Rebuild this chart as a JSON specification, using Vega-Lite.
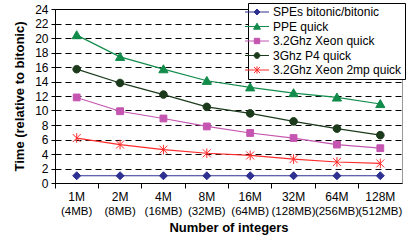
{
  "$schema": "https://vega.github.io/schema/vega-lite/v6.json",
  "width": 347,
  "height": 174,
  "autosize": "none",
  "padding": {"left": 55, "top": 9, "right": 9, "bottom": 57},
  "background": "white",
  "config": {
    "font": "Liberation Sans",
    "view": {"stroke": "#999999", "strokeWidth": 1}
  },
  "data": {
    "values": [
      {"n": "1M (4MB)", "s": "SPEs bitonic/bitonic", "v": 1.0},
      {"n": "2M (8MB)", "s": "SPEs bitonic/bitonic", "v": 1.0},
      {"n": "4M (16MB)", "s": "SPEs bitonic/bitonic", "v": 1.0},
      {"n": "8M (32MB)", "s": "SPEs bitonic/bitonic", "v": 1.0},
      {"n": "16M (64MB)", "s": "SPEs bitonic/bitonic", "v": 1.0},
      {"n": "32M (128MB)", "s": "SPEs bitonic/bitonic", "v": 1.0},
      {"n": "64M (256MB)", "s": "SPEs bitonic/bitonic", "v": 1.0},
      {"n": "128M (512MB)", "s": "SPEs bitonic/bitonic", "v": 1.0},
      {"n": "1M (4MB)", "s": "PPE quick", "v": 20.4},
      {"n": "2M (8MB)", "s": "PPE quick", "v": 17.4},
      {"n": "4M (16MB)", "s": "PPE quick", "v": 15.7},
      {"n": "8M (32MB)", "s": "PPE quick", "v": 14.1},
      {"n": "16M (64MB)", "s": "PPE quick", "v": 13.2},
      {"n": "32M (128MB)", "s": "PPE quick", "v": 12.4},
      {"n": "64M (256MB)", "s": "PPE quick", "v": 11.8},
      {"n": "128M (512MB)", "s": "PPE quick", "v": 10.9},
      {"n": "1M (4MB)", "s": "3.2Ghz Xeon quick", "v": 11.8},
      {"n": "2M (8MB)", "s": "3.2Ghz Xeon quick", "v": 9.9},
      {"n": "4M (16MB)", "s": "3.2Ghz Xeon quick", "v": 8.9},
      {"n": "8M (32MB)", "s": "3.2Ghz Xeon quick", "v": 7.8},
      {"n": "16M (64MB)", "s": "3.2Ghz Xeon quick", "v": 6.9},
      {"n": "32M (128MB)", "s": "3.2Ghz Xeon quick", "v": 6.2},
      {"n": "64M (256MB)", "s": "3.2Ghz Xeon quick", "v": 5.3},
      {"n": "128M (512MB)", "s": "3.2Ghz Xeon quick", "v": 4.8},
      {"n": "1M (4MB)", "s": "3Ghz P4 quick", "v": 15.7},
      {"n": "2M (8MB)", "s": "3Ghz P4 quick", "v": 13.8},
      {"n": "4M (16MB)", "s": "3Ghz P4 quick", "v": 12.2},
      {"n": "8M (32MB)", "s": "3Ghz P4 quick", "v": 10.5},
      {"n": "16M (64MB)", "s": "3Ghz P4 quick", "v": 9.6},
      {"n": "32M (128MB)", "s": "3Ghz P4 quick", "v": 8.5},
      {"n": "64M (256MB)", "s": "3Ghz P4 quick", "v": 7.5},
      {"n": "128M (512MB)", "s": "3Ghz P4 quick", "v": 6.6},
      {"n": "1M (4MB)", "s": "3.2Ghz Xeon 2mp quick", "v": 6.2},
      {"n": "2M (8MB)", "s": "3.2Ghz Xeon 2mp quick", "v": 5.3},
      {"n": "4M (16MB)", "s": "3.2Ghz Xeon 2mp quick", "v": 4.6},
      {"n": "8M (32MB)", "s": "3.2Ghz Xeon 2mp quick", "v": 4.1},
      {"n": "16M (64MB)", "s": "3.2Ghz Xeon 2mp quick", "v": 3.8},
      {"n": "32M (128MB)", "s": "3.2Ghz Xeon 2mp quick", "v": 3.3},
      {"n": "64M (256MB)", "s": "3.2Ghz Xeon 2mp quick", "v": 2.9},
      {"n": "128M (512MB)", "s": "3.2Ghz Xeon 2mp quick", "v": 2.7}
    ]
  },
  "encoding": {
    "y": {
      "field": "v",
      "type": "quantitative",
      "scale": {"domain": [0, 24], "nice": false},
      "title": "Time (relative to bitonic)",
      "axis": {
        "values": [0, 2, 4, 6, 8, 10, 12, 14, 16, 18, 20, 22, 24],
        "grid": true,
        "gridColor": "#000000",
        "gridOpacity": 1,
        "gridWidth": 1,
        "gridDash": {"condition": {"test": "datum.value == 24", "value": []}, "value": [6, 4]},
        "domainColor": "#000000",
        "tickColor": "#000000",
        "tickSize": 4,
        "labelFontSize": 12,
        "labelColor": "#000000",
        "labelPadding": 3,
        "titleFontSize": 13,
        "titleFontWeight": "bold",
        "titleColor": "#000000",
        "titlePadding": 8
      }
    }
  },
  "layer": [
    {
      "mark": {"type": "line", "strokeWidth": 1.2},
      "encoding": {
        "x": {
          "field": "n", "type": "ordinal", "sort": null,
          "scale": {"type": "band", "paddingInner": 0, "paddingOuter": 0},
          "axis": {"orient": "bottom", "bandPosition": 0, "labels": false, "ticks": true, "tickSize": 5, "tickColor": "#000000", "domainColor": "#000000", "grid": false, "title": null}
        },
        "color": {
          "field": "s", "type": "nominal",
          "scale": {
            "domain": ["SPEs bitonic/bitonic", "PPE quick", "3.2Ghz Xeon quick", "3Ghz P4 quick", "3.2Ghz Xeon 2mp quick"],
            "range": ["#2e3192", "#128c4b", "#c455b0", "#1c3a1c", "#ff2b2b"]
          },
          "legend": null
        }
      }
    },
    {
      "mark": {"type": "point", "filled": true, "opacity": 1, "size": 64, "strokeWidth": 1},
      "encoding": {
        "x": {
          "field": "n", "type": "ordinal", "sort": null,
          "axis": {"orient": "bottom", "labelExpr": "split(datum.value, ' ')[0]", "labelAngle": 0, "ticks": false, "domain": false, "grid": false, "labelPadding": 8, "labelFontSize": 12, "labelColor": "#000000", "title": null}
        },
        "color": {
          "field": "s", "type": "nominal",
          "scale": {
            "domain": ["SPEs bitonic/bitonic", "PPE quick", "3.2Ghz Xeon quick", "3Ghz P4 quick", "3.2Ghz Xeon 2mp quick"],
            "range": ["#2e3192", "#128c4b", "#c455b0", "#1c3a1c", "#ff2b2b"]
          },
          "legend": null
        },
        "stroke": {
          "field": "s", "type": "nominal",
          "scale": {
            "domain": ["SPEs bitonic/bitonic", "PPE quick", "3.2Ghz Xeon quick", "3Ghz P4 quick", "3.2Ghz Xeon 2mp quick"],
            "range": ["#2e3192", "#128c4b", "#c455b0", "#1c3a1c", "#ff2b2b"]
          },
          "legend": null
        },
        "shape": {
          "field": "s", "type": "nominal",
          "scale": {
            "domain": ["SPEs bitonic/bitonic", "PPE quick", "3.2Ghz Xeon quick", "3Ghz P4 quick", "3.2Ghz Xeon 2mp quick"],
            "range": [
              "M0,-1L1,0L0,1L-1,0Z",
              "M0,-1.1L1.15,0.9L-1.15,0.9Z",
              "M-0.85,-0.85L0.85,-0.85L0.85,0.85L-0.85,0.85Z",
              "M0.95,0A0.95,0.95,0,1,1,-0.95,0A0.95,0.95,0,1,1,0.95,0Z",
              "M-1,-1L1,1M-1,1L1,-1M0,-1.2L0,1.2"
            ]
          },
          "legend": null
        }
      }
    },
    {
      "mark": {"type": "point", "filled": true, "size": 0, "strokeWidth": 1},
      "encoding": {
        "x": {
          "field": "n", "type": "ordinal", "sort": null,
          "axis": {"orient": "bottom", "labelExpr": "split(datum.value, ' ')[1]", "labelAngle": 0, "ticks": false, "domain": false, "grid": false, "labelPadding": 22, "labelFontSize": 11.5, "labelColor": "#000000", "title": "Number of integers", "titleFontSize": 13, "titleFontWeight": "bold", "titleColor": "#000000", "titlePadding": 5}
        },
        "color": {
          "field": "s", "type": "nominal",
          "scale": {
            "domain": ["SPEs bitonic/bitonic", "PPE quick", "3.2Ghz Xeon quick", "3Ghz P4 quick", "3.2Ghz Xeon 2mp quick"],
            "range": ["#2e3192", "#128c4b", "#c455b0", "#1c3a1c", "#ff2b2b"]
          },
          "legend": {"orient": "none", "legendX": 193, "legendY": -6, "title": null, "symbolSize": 36, "symbolStrokeWidth": 1, "labelFontSize": 12, "labelColor": "#000000", "labelOffset": 10, "rowPadding": 2.5, "padding": 3, "strokeColor": "#000000", "fillColor": "#ffffff", "symbolOpacity": 1}
        },
        "stroke": {
          "field": "s", "type": "nominal",
          "scale": {
            "domain": ["SPEs bitonic/bitonic", "PPE quick", "3.2Ghz Xeon quick", "3Ghz P4 quick", "3.2Ghz Xeon 2mp quick"],
            "range": ["#2e3192", "#128c4b", "#c455b0", "#1c3a1c", "#ff2b2b"]
          },
          "legend": {"orient": "none", "legendX": 193, "legendY": -6, "title": null, "symbolSize": 36, "symbolStrokeWidth": 1, "labelFontSize": 12, "labelColor": "#000000", "labelOffset": 10, "rowPadding": 2.5, "padding": 3, "strokeColor": "#000000", "fillColor": "#ffffff", "symbolOpacity": 1}
        },
        "shape": {
          "field": "s", "type": "nominal",
          "scale": {
            "domain": ["SPEs bitonic/bitonic", "PPE quick", "3.2Ghz Xeon quick", "3Ghz P4 quick", "3.2Ghz Xeon 2mp quick"],
            "range": [
              "M-4,0L4,0M0,-1L1,0L0,1L-1,0Z",
              "M-4,0L4,0M0,-1.1L1.15,0.9L-1.15,0.9Z",
              "M-4,0L4,0M-0.9,-0.9L0.9,-0.9L0.9,0.9L-0.9,0.9Z",
              "M-4,0L4,0M0.95,0A0.95,0.95,0,1,1,-0.95,0A0.95,0.95,0,1,1,0.95,0Z",
              "M-4,0L4,0M-1,-1L1,1M-1,1L1,-1M0,-1.2L0,1.2"
            ]
          },
          "legend": {"orient": "none", "legendX": 193, "legendY": -6, "title": null, "symbolSize": 36, "symbolStrokeWidth": 1, "labelFontSize": 12, "labelColor": "#000000", "labelOffset": 10, "rowPadding": 2.5, "padding": 3, "strokeColor": "#000000", "fillColor": "#ffffff", "symbolOpacity": 1}
        }
      }
    }
  ],
  "resolve": {
    "scale": {"color": "independent", "stroke": "independent", "shape": "independent"},
    "axis": {"x": "independent"}
  }
}
